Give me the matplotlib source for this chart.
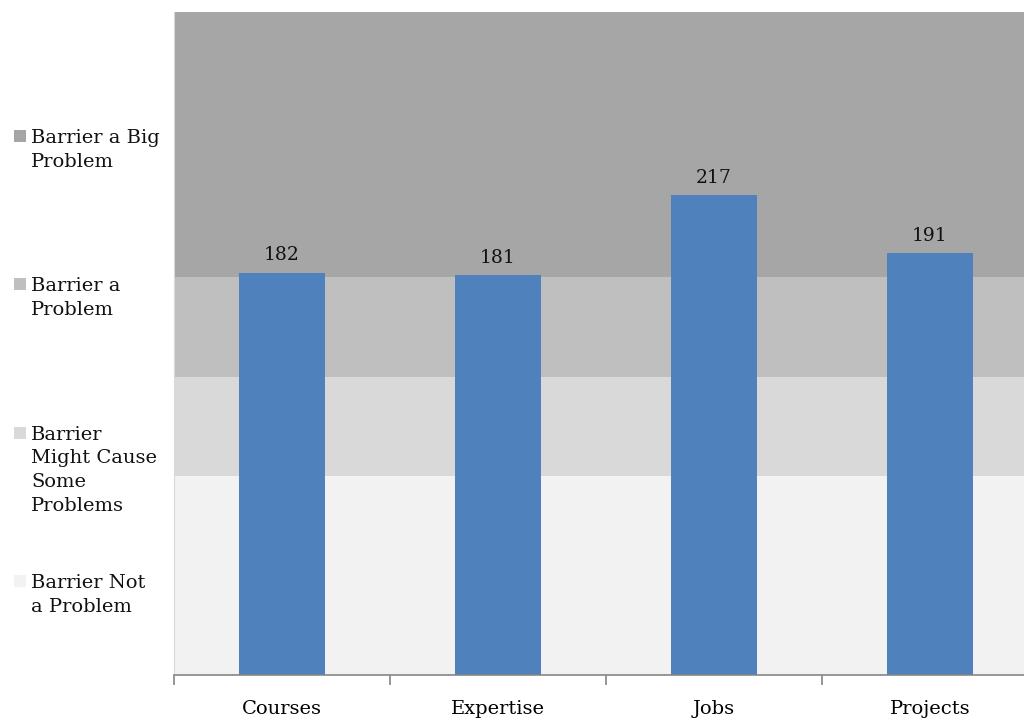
import matplotlib

matplotlib.use("Agg")
import matplotlib.pyplot as plt
import numpy as np

# survey counts per category
categories = ["Courses", "Expertise", "Jobs", "Projects"]
counts = [182, 181, 217, 191]

# background bands (upper bound of each band), bottom to top
band_labels = [
    "Barrier Not\na Problem",
    "Barrier\nMight Cause\nSome\nProblems",
    "Barrier a\nProblem",
    "Barrier a Big\nProblem",
]
band_tops = [90, 135, 180, 300]
band_colors = ["#f2f2f2", "#d9d9d9", "#bfbfbf", "#a6a6a6"]

bar_color = "#4f81bd"
font = "DejaVu Serif"
plt.rcParams["font.family"] = font

fig = plt.figure(figsize=(10.24, 7.22), dpi=100)
ax = fig.add_axes([174 / 1024, 47 / 722, 864 / 1024, 663 / 722])

x = np.arange(len(categories))
lo = 0
for top, col in zip(band_tops, band_colors):
    ax.axhspan(lo, top, color=col, lw=0, zorder=0)
    lo = top

bars = ax.bar(x, counts, width=0.4, color=bar_color, zorder=2)
for b, v in zip(bars, counts):
    ax.annotate(str(v), (b.get_x() + b.get_width() / 2, v), xytext=(0, 6),
                textcoords="offset points", ha="center", va="bottom",
                fontsize=13.5, color="#111111")

ax.set_xlim(-0.5, len(categories) - 0.5)
ax.set_ylim(0, band_tops[-1])
ax.set_yticks([])
ax.set_xticks(np.arange(len(categories) + 1) - 0.5)
ax.set_xticklabels([])
ax.set_xticks(x, minor=True)
ax.set_xticklabels(categories, minor=True, fontsize=14)
ax.tick_params(axis="x", which="major", length=7, color="#868686", width=1.2)
ax.tick_params(axis="x", which="minor", length=0, pad=18)
for s in ["top", "right"]:
    ax.spines[s].set_visible(False)
ax.spines["left"].set_color("#d9d9d9")
ax.spines["bottom"].set_color("#868686")
ax.spines["bottom"].set_linewidth(1.2)

# legend on the left, one entry per band, top band first
for i, (lab, col) in enumerate(zip(band_labels[::-1], band_colors[::-1])):
    ytop = 1 - (130 + i * 148.3) / 722
    fig.patches.append(plt.Rectangle((14 / 1024, ytop - 12 / 722), 12 / 1024, 12 / 722,
                                     transform=fig.transFigure, color=col, lw=0))
    fig.text(31 / 1024, ytop + 1 / 722, lab, ha="left", va="top", fontsize=14,
             linespacing=1.42, color="#111111")

fig.savefig("out.png", dpi=100)
